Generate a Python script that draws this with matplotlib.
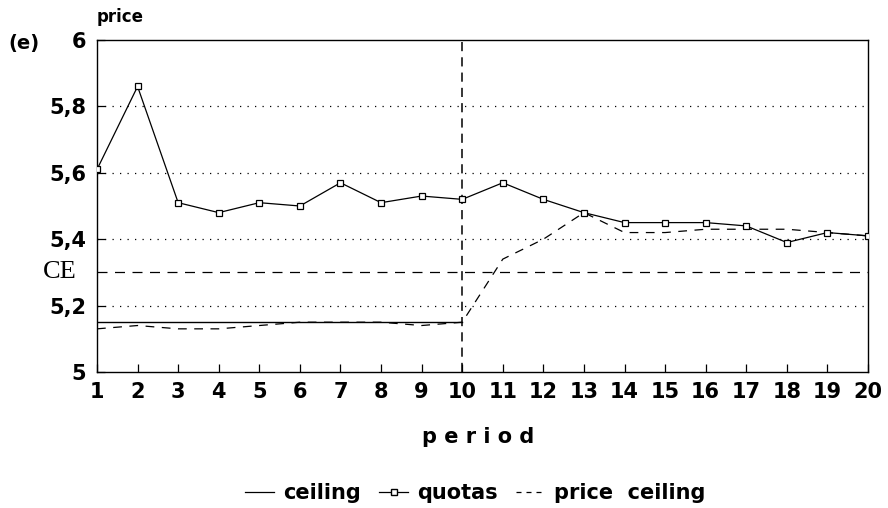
import numpy as np
import matplotlib.pyplot as plt
from matplotlib.lines import Line2D

periods = list(range(1, 21))
quotas = [5.61, 5.86, 5.51, 5.48, 5.51, 5.50, 5.57, 5.51, 5.53, 5.52,
          5.57, 5.52, 5.48, 5.45, 5.45, 5.45, 5.44, 5.39, 5.42, 5.41]
price_ceiling = [5.13, 5.14, 5.13, 5.13, 5.14, 5.15, 5.15, 5.15, 5.14, 5.15,
                 5.34, 5.40, 5.48, 5.42, 5.42, 5.43, 5.43, 5.43, 5.42, 5.41]
ceiling_periods = list(range(1, 11))
ceiling = [5.15] * 10
ce_level = 5.3
switch_period = 10
yticks = [5, 5.2, 5.4, 5.6, 5.8, 6]
ytick_labels = ['5', '5,2', '5,4', '5,6', '5,8', '6']

plt.rcParams['font.family'] = ['DejaVu Sans']

fig = plt.figure(figsize=(8.88, 5.08), dpi=100)
ax = fig.add_axes([97 / 888, 1 - 372 / 508, (868 - 97) / 888, (372 - 40) / 508])

# dotted grid
for y in yticks[1:-1]:
    ax.axhline(y, color='black', lw=0.9, ls=(0, (1, 5)), zorder=1)

ax.axhline(ce_level, color='black', lw=0.9, ls=(0, (8, 6)), zorder=1)
ax.axvline(switch_period, color='black', lw=1.1, ls=(0, (6, 4)), zorder=2)

ax.plot(ceiling_periods, ceiling, color='black', lw=1.0, zorder=3)
ax.plot(periods, price_ceiling, color='black', lw=0.9, ls=(0, (7, 6)), zorder=3)
ax.plot(periods, quotas, color='black', lw=0.9, marker='s', ms=4.5,
        mfc='white', mec='black', mew=0.9, zorder=4)

ax.set_xlim(1, 20)
ax.set_ylim(5, 6)
ax.set_xticks(periods)
ax.set_xticklabels([str(p) for p in periods], fontsize=15, fontweight='bold')
ax.set_yticks(yticks)
ax.set_yticklabels(ytick_labels, fontsize=15, fontweight='bold')
ax.tick_params(axis='both', direction='in', length=6, width=0.9)
ax.tick_params(axis='x', pad=7)
ax.tick_params(axis='y', pad=8)
for s in ax.spines.values():
    s.set_linewidth(1.0)

ax.text(-0.026, ce_level, 'CE', transform=ax.get_yaxis_transform(),
        ha='right', va='center', fontsize=19, family='Liberation Serif')
fig.text(8 / 888, 1 - 43 / 508, '(e)', fontsize=14, fontweight='bold', va='center')
fig.text(97 / 888, 1 - 17 / 508, 'price', fontsize=12, fontweight='bold',
         va='center', ha='left')

fig.text(0.538, 1 - 437 / 508, 'p e r i o d', fontsize=15, fontweight='bold',
         ha='center', va='center')

handles = [
    Line2D([], [], color='black', lw=0.9),
    Line2D([], [], color='black', lw=0.9, marker='s', ms=4, mfc='white'),
    Line2D([], [], color='black', lw=0.9, ls=(0, (4, 4))),
]
fig.legend(handles, ['ceiling', 'quotas', 'price  ceiling'], loc='center',
           bbox_to_anchor=(0.535, 1 - 493 / 508), ncol=3, frameon=False,
           prop={'size': 15, 'weight': 'bold'}, handlelength=1.4,
           handletextpad=0.4, columnspacing=0.9)

fig.savefig('out.png', dpi=100)
